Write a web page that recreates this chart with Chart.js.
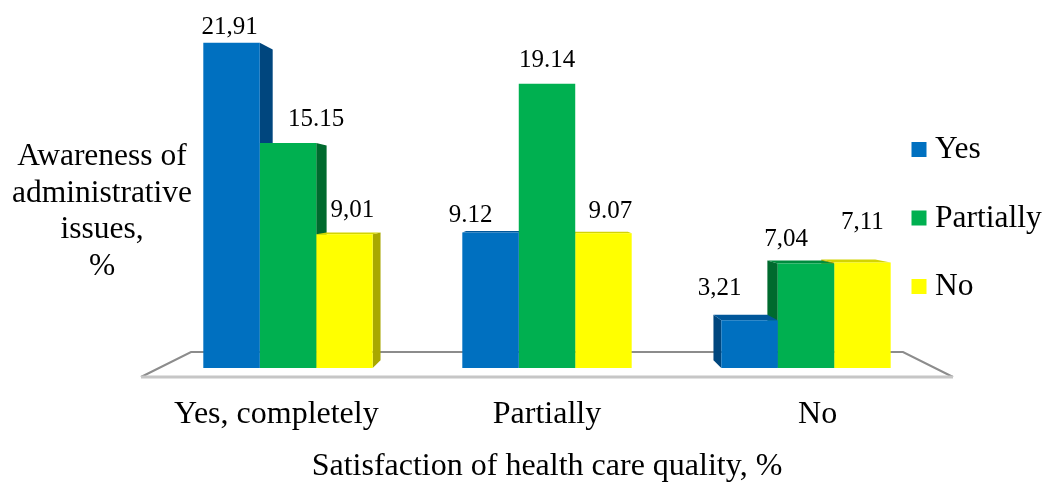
<!DOCTYPE html>
<html>
<head>
<meta charset="utf-8">
<script src="https://cdn.jsdelivr.net/npm/chart.js@4"></script>
<style>
  html, body { margin: 0; padding: 0; background: #ffffff; }
  canvas { display: block; }
</style>
</head>
<body>
<canvas id="c" width="1044" height="482"></canvas>
<script>
// Survey groups (x axis) and answer series
const categories = ['Yes, completely', 'Partially', 'No'];
const seriesNames = ['Yes', 'Partially', 'No'];

const yesValues = [21.91, 9.12, 3.21];
const partiallyValues = [15.15, 19.14, 7.04];
const noValues = [9.01, 9.07, 7.11];

// Decimal separator printed in each value label
const yesMarks = [',', '.', ','];
const partiallyMarks = ['.', '.', ','];
const noMarks = [',', '.', ','];

const yTitleLines = ['Awareness of', 'administrative', 'issues,', '%'];
const xTitle = 'Satisfaction of health care quality, %';

const SERIF = "'Liberation Serif', 'Times New Roman', serif";

const palette = [
  { front: '#0070C0', side: '#00467E', top: '#00579A' },
  { front: '#00B050', side: '#006A2E', top: '#008C3E' },
  { front: '#FFFF00', side: '#A9A800', top: '#D4D400' }
];

// Extruded bar faces and the floor slab, drawn behind the bar fronts
const depth3d = {
  id: 'depth3d',
  beforeDatasetsDraw(chart, args, o) {
    const { ctx, chartArea: a } = chart;
    const vx = (a.left + a.right) / 2;
    const vy = a.top + o.vanishY * (a.bottom - a.top);
    const k = o.depth;
    const b = a.bottom;

    // floor
    const yb = b - o.floorBack, yf = b + o.floorFront;
    const bl = a.left + o.floorInset, br = a.right - o.floorInset;
    const fl = a.left - o.floorOutset, fr = a.right + o.floorOutset;
    ctx.save();
    ctx.fillStyle = '#ffffff';
    ctx.beginPath();
    ctx.moveTo(fl, yf); ctx.lineTo(bl, yb); ctx.lineTo(br, yb); ctx.lineTo(fr, yf);
    ctx.closePath();
    ctx.fill();
    ctx.strokeStyle = '#8c8c8c';
    ctx.lineWidth = 2;
    ctx.beginPath();
    ctx.moveTo(fl, yf); ctx.lineTo(bl, yb); ctx.lineTo(br, yb); ctx.lineTo(fr, yf);
    ctx.stroke();
    ctx.strokeStyle = '#c6c6c6';
    ctx.lineWidth = 3;
    ctx.beginPath();
    ctx.moveTo(fl, yf); ctx.lineTo(fr, yf);
    ctx.stroke();

    // bar extrusions, farthest from the vanishing point first
    const bars = [];
    chart.data.datasets.forEach((ds, i) => {
      chart.getDatasetMeta(i).data.forEach(el => {
        bars.push({ el, c: palette[i] });
      });
    });
    bars.sort((p, q) => Math.abs(q.el.x - vx) - Math.abs(p.el.x - vx));
    const px = x => x + (vx - x) * k;
    const py = y => y + (vy - y) * k;
    bars.forEach(({ el, c }) => {
      const w = el.width;
      const L = el.x - w / 2, R = el.x + w / 2, T = el.y, B = el.base;
      const bL = px(L), bR = px(R), bT = py(T), bB = py(B);
      ctx.fillStyle = c.side;
      if (bR > R) {
        ctx.beginPath();
        ctx.moveTo(R, T); ctx.lineTo(bR, bT); ctx.lineTo(bR, bB); ctx.lineTo(R, B);
        ctx.closePath(); ctx.fill();
      }
      if (bL < L) {
        ctx.beginPath();
        ctx.moveTo(L, T); ctx.lineTo(bL, bT); ctx.lineTo(bL, bB); ctx.lineTo(L, B);
        ctx.closePath(); ctx.fill();
      }
      if (bT < T) {
        ctx.fillStyle = c.top;
        ctx.beginPath();
        ctx.moveTo(L, T); ctx.lineTo(R, T); ctx.lineTo(bR, bT); ctx.lineTo(bL, bT);
        ctx.closePath(); ctx.fill();
      }
    });
    ctx.restore();
  }
};

// Value labels, category names, legend and the vertical-axis caption
const annotations = {
  id: 'annotations',
  afterDatasetsDraw(chart, args, o) {
    const { ctx, chartArea: a } = chart;
    ctx.save();
    ctx.fillStyle = '#000000';
    ctx.textBaseline = 'alphabetic';

    // value labels
    ctx.font = `${o.valueSize}px ${SERIF}`;
    ctx.textAlign = 'center';
    chart.data.datasets.forEach((ds, i) => {
      chart.getDatasetMeta(i).data.forEach((el, j) => {
        const v = ds.data[j];
        const txt = v.toFixed(2).replace('.', ds.marks[j]);
        const [dx, dy] = o.valueOffsets[i][j];
        ctx.fillText(txt, el.x + dx, el.y + dy);
      });
    });

    // category names, spread along the front edge of the floor
    const xs = chart.scales.x;
    const vx = (a.left + a.right) / 2;
    ctx.font = `${o.textSize}px ${SERIF}`;
    chart.data.labels.forEach((lab, i) => {
      const x = vx + (xs.getPixelForValue(i) - vx) * o.frontSpread;
      ctx.fillText(lab, x, a.bottom + o.categoryDrop);
    });

    // legend
    ctx.textAlign = 'left';
    ctx.font = `${o.legendSize}px ${SERIF}`;
    chart.data.datasets.forEach((ds, i) => {
      const base = a.top + o.legendTop + i * o.legendStep;
      ctx.fillStyle = ds.backgroundColor;
      ctx.fillRect(a.right + o.legendBoxX, base - o.legendBox - 1, o.legendBox, o.legendBox);
      ctx.fillStyle = '#000000';
      ctx.fillText(ds.label, a.right + o.legendTextX, base);
    });

    // vertical-axis caption
    ctx.textAlign = 'center';
    ctx.font = `${o.captionSize}px ${SERIF}`;
    yTitleLines.forEach((line, i) => {
      ctx.fillText(line, a.left - o.captionX, a.top + o.captionTop + i * o.captionStep);
    });
    ctx.restore();
  }
};

const valueLists = [yesValues, partiallyValues, noValues];
const markLists = [yesMarks, partiallyMarks, noMarks];

new Chart(document.getElementById('c'), {
  type: 'bar',
  data: {
    labels: categories,
    datasets: seriesNames.map((name, i) => ({
      label: name,
      data: valueLists[i],
      marks: markLists[i],
      backgroundColor: palette[i].front,
      borderWidth: 0,
      barPercentage: 1,
      categoryPercentage: 0.654
    }))
  },
  options: {
    responsive: false,
    animation: false,
    events: [],
    layout: { padding: { left: 158.5, right: 108.5, top: 11.6, bottom: 0 } },
    scales: {
      x: {
        grid: { display: false, drawTicks: false },
        border: { display: false },
        ticks: { display: false },
        title: {
          display: true,
          text: xTitle,
          color: '#000000',
          font: { family: SERIF, size: 32 },
          padding: { top: 79.6, bottom: -4 }
        }
      },
      y: {
        display: false,
        min: 0,
        max: 24
      }
    },
    plugins: {
      legend: { display: false },
      tooltip: { enabled: false },
      depth3d: {
        vanishY: 0.52,
        depth: 0.045,
        floorBack: 16,
        floorFront: 9,
        floorInset: 32.5,
        floorOutset: 17.5
      },
      annotations: {
        valueSize: 25,
        textSize: 32,
        legendSize: 31.5,
        captionSize: 31.5,
        valueOffsets: [
          [[-2, -9], [-20, -11], [-30, -25]],
          [[28, -17], [0, -17], [-20, -17]],
          [[8, -17], [7, -15], [0, -33]]
        ],
        frontSpread: 1.045,
        categoryDrop: 55,
        legendTop: 146.4,
        legendStep: 68.5,
        legendBox: 15,
        legendBoxX: -24,
        legendTextX: -0.5,
        captionX: 56.5,
        captionTop: 153.4,
        captionStep: 36.7
      }
    }
  },
  plugins: [depth3d, annotations]
});
</script>
</body>
</html>
